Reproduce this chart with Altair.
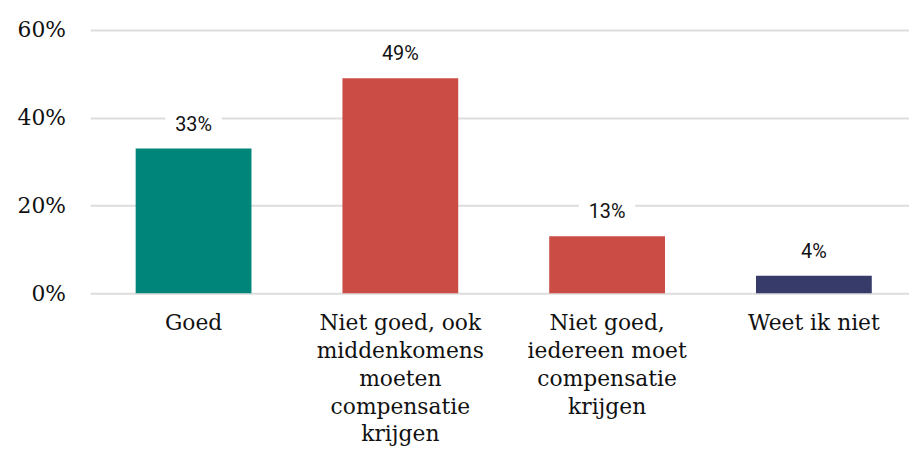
import altair as alt
import pandas as pd

categories = [
    "Goed",
    "Niet goed, ook|middenkomens|moeten|compensatie|krijgen",
    "Niet goed,|iedereen moet|compensatie|krijgen",
    "Weet ik niet",
]
values = [33, 49, 13, 4]
colors = ["#00857a", "#cb4c44", "#cb4c44", "#363b6a"]
y_ticks = [0, 20, 40, 60]

df = pd.DataFrame({
    "cat": categories,
    "value": values,
    "color": colors,
    "label": [f"{v}%" for v in values],
})

x = alt.X(
    "cat:N",
    sort=categories,
    title=None,
    scale=alt.Scale(paddingInner=0.44, paddingOuter=0.2, align=0.55),
    axis=alt.Axis(
        labelExpr="split(datum.label, '|')",
        labelAngle=0,
        labelFont="DejaVu Serif",
        labelFontSize=22,
        labelColor="#111111",
        labelLineHeight=28,
        labelPadding=20,
        labelBaseline="top",
        ticks=False,
        domain=False,
        grid=False,
        labelLimit=300,
    ),
)
y = alt.Y(
    "value:Q",
    title=None,
    scale=alt.Scale(domain=[0, 60]),
    axis=alt.Axis(
        values=y_ticks,
        labelExpr="datum.value + '%'",
        labelFont="DejaVu Serif",
        labelFontSize=22,
        labelColor="#111111",
        labelPadding=25,
        ticks=False,
        domain=False,
        gridColor="#dddddd",
        gridWidth=2,
    ),
)

base = alt.Chart(df)

bars = base.mark_bar().encode(x=x, y=y, color=alt.Color("color:N", scale=None))

halo = base.mark_point(
    shape="M-0.95,-0.36H0.95V0.36H-0.95Z",
    filled=True,
    fill="white",
    opacity=1,
    size=3600,
    yOffset=-24,
).encode(x=x, y=y)

text = base.mark_text(
    font="Roboto",
    fontSize=20,
    color="#111111",
    baseline="middle",
    dy=-24,
).encode(x=x, y=y, text="label:N")

chart = (
    (bars + halo + text)
    .properties(
        width=827,
        height=266,
        background="white",
        padding={"left": 9, "top": 9, "right": 0, "bottom": 0},
    )
    .configure_view(stroke="transparent", strokeWidth=0)
)

chart.save("out.html", embed_options={"renderer": "svg", "actions": False})
